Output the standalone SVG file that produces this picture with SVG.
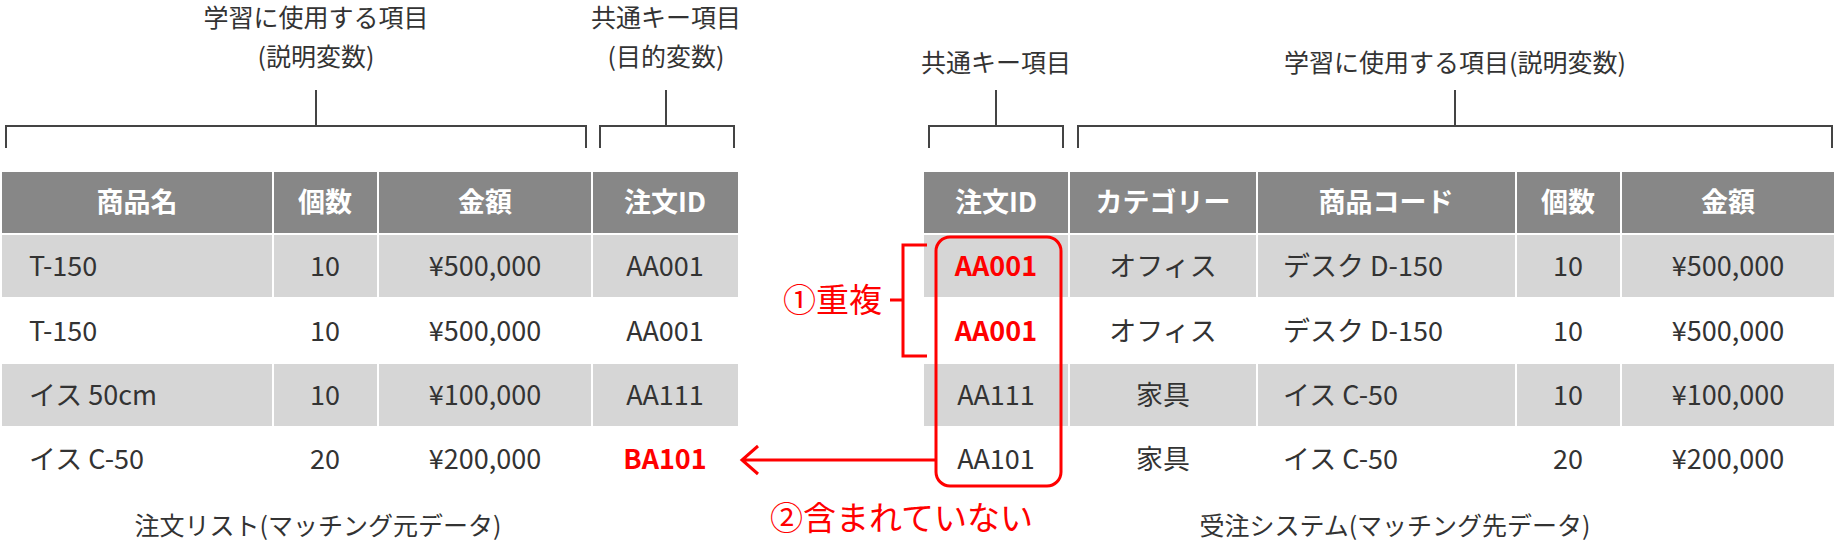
<svg xmlns="http://www.w3.org/2000/svg" width="1836" height="540" viewBox="0 0 1836 540">
<style>
text{font-family:"Noto Sans CJK JP","Noto Sans",sans-serif;fill:#333}
.h{fill:#fff;font-weight:bold;font-size:27px;text-anchor:middle}
.c{font-size:27px;text-anchor:middle}
.l{font-size:27px}
.r{fill:#f00;font-weight:bold}
.lab{font-size:25px;text-anchor:middle}
.red{fill:#f00;font-size:33px}
.hd{fill:#878787}.gr{fill:#d6d6d6}
.br{fill:none;stroke:#444;stroke-width:2}
.rl{fill:none;stroke:#f00;stroke-width:3}
</style>
<g id="brackets">
<path class="br" d="M6 148V126H586V148M316 126V90"/>
<path class="br" d="M600 148V126H734V148M666 126V90"/>
<path class="br" d="M929 148V126H1063V148M996 126V90"/>
<path class="br" d="M1078 148V126H1832V148M1455 126V90"/>
</g>
<g id="labels">
<text class="lab" x="316" y="27">学習に使用する項目</text>
<text class="lab" x="316" y="66">(説明変数)</text>
<text class="lab" x="666" y="27">共通キー項目</text>
<text class="lab" x="666" y="66">(目的変数)</text>
<text class="lab" x="996" y="72">共通キー項目</text>
<text class="lab" x="1455" y="72">学習に使用する項目(説明変数)</text>
<text class="lab" x="318" y="535">注文リスト(マッチング元データ)</text>
<text class="lab" x="1395" y="535">受注システム(マッチング先データ)</text>
</g>
<g id="left-table">
<rect class="hd" x="2" y="172" width="270" height="61"/><rect class="hd" x="274" y="172" width="103" height="61"/><rect class="hd" x="379" y="172" width="212" height="61"/><rect class="hd" x="593" y="172" width="145" height="61"/>
<rect class="gr" x="2" y="235" width="270" height="62"/><rect class="gr" x="274" y="235" width="103" height="62"/><rect class="gr" x="379" y="235" width="212" height="62"/><rect class="gr" x="593" y="235" width="145" height="62"/>
<rect class="gr" x="2" y="364" width="270" height="62"/><rect class="gr" x="274" y="364" width="103" height="62"/><rect class="gr" x="379" y="364" width="212" height="62"/><rect class="gr" x="593" y="364" width="145" height="62"/>
<text class="h" x="137" y="212">商品名</text><text class="h" x="325" y="212">個数</text><text class="h" x="485" y="212">金額</text><text class="h" x="665" y="212">注文ID</text>
<text class="l" x="29" y="276">T-150</text><text class="c" x="325" y="276">10</text><text class="c" x="485" y="276">¥500,000</text><text class="c" x="665" y="276">AA001</text>
<text class="l" x="29" y="341">T-150</text><text class="c" x="325" y="341">10</text><text class="c" x="485" y="341">¥500,000</text><text class="c" x="665" y="341">AA001</text>
<text class="l" x="29" y="405">イス 50cm</text><text class="c" x="325" y="405">10</text><text class="c" x="485" y="405">¥100,000</text><text class="c" x="665" y="405">AA111</text>
<text class="l" x="29" y="469">イス C-50</text><text class="c" x="325" y="469">20</text><text class="c" x="485" y="469">¥200,000</text><text class="c r" x="665" y="469">BA101</text>
</g>
<g id="right-table">
<rect class="hd" x="924" y="172" width="144" height="61"/><rect class="hd" x="1070" y="172" width="186" height="61"/><rect class="hd" x="1258" y="172" width="257" height="61"/><rect class="hd" x="1517" y="172" width="103" height="61"/><rect class="hd" x="1622" y="172" width="212" height="61"/>
<rect class="gr" x="924" y="235" width="144" height="62"/><rect class="gr" x="1070" y="235" width="186" height="62"/><rect class="gr" x="1258" y="235" width="257" height="62"/><rect class="gr" x="1517" y="235" width="103" height="62"/><rect class="gr" x="1622" y="235" width="212" height="62"/>
<rect class="gr" x="924" y="364" width="144" height="62"/><rect class="gr" x="1070" y="364" width="186" height="62"/><rect class="gr" x="1258" y="364" width="257" height="62"/><rect class="gr" x="1517" y="364" width="103" height="62"/><rect class="gr" x="1622" y="364" width="212" height="62"/>
<text class="h" x="996" y="212">注文ID</text><text class="h" x="1163" y="212">カテゴリー</text><text class="h" x="1386" y="212">商品コード</text><text class="h" x="1568" y="212">個数</text><text class="h" x="1728" y="212">金額</text>
<text class="c r" x="996" y="276">AA001</text><text class="c" x="1163" y="276">オフィス</text><text class="l" x="1283" y="276">デスク D-150</text><text class="c" x="1568" y="276">10</text><text class="c" x="1728" y="276">¥500,000</text>
<text class="c r" x="996" y="341">AA001</text><text class="c" x="1163" y="341">オフィス</text><text class="l" x="1283" y="341">デスク D-150</text><text class="c" x="1568" y="341">10</text><text class="c" x="1728" y="341">¥500,000</text>
<text class="c" x="996" y="405">AA111</text><text class="c" x="1163" y="405">家具</text><text class="l" x="1283" y="405">イス C-50</text><text class="c" x="1568" y="405">10</text><text class="c" x="1728" y="405">¥100,000</text>
<text class="c" x="996" y="469">AA101</text><text class="c" x="1163" y="469">家具</text><text class="l" x="1283" y="469">イス C-50</text><text class="c" x="1568" y="469">20</text><text class="c" x="1728" y="469">¥200,000</text>
</g>
<g id="connectors">
<rect class="rl" x="936" y="237" width="125" height="249" rx="14"/>
<path class="rl" d="M927 245H903V356H927M903 300H890"/>
<path class="rl" d="M936 460H742M758 446L742 460L758 474"/>
</g>
<g id="notes">
<text class="red" x="882" y="312" text-anchor="end">①重複</text>
<text class="red" x="770" y="530">②含まれていない</text>
</g>
</svg>
